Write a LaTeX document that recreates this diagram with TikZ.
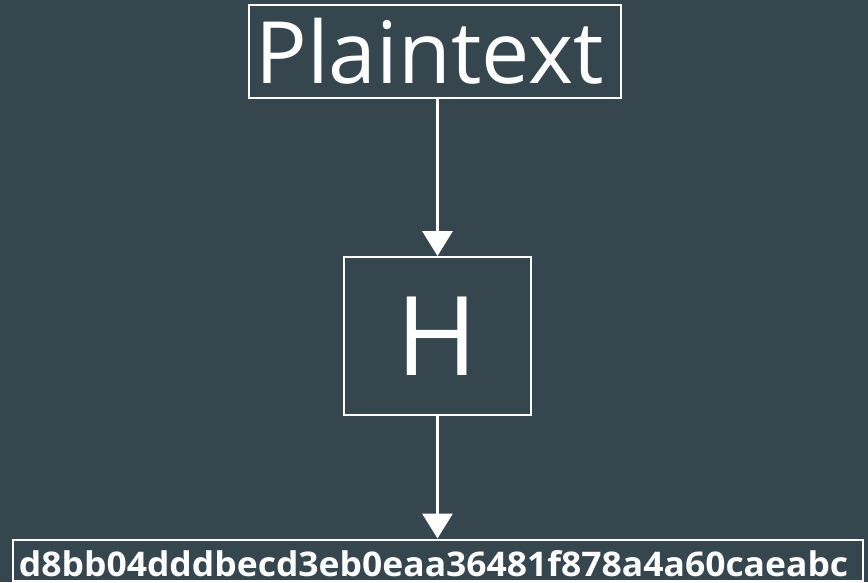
\documentclass[tikz,border=0pt]{standalone}
\usepackage{fontspec}
\setmainfont{Open Sans}
\usetikzlibrary{arrows.meta}
\definecolor{slate}{HTML}{36464F}
\begin{document}
\begin{tikzpicture}[x=1pt,y=-1pt,
  frame/.style={draw=white,line width=2pt,inner sep=0pt,text=white,anchor=center},
  flow/.style={draw=white,line width=3.5pt,-{Triangle[width=30pt,length=25pt]}}]
  \fill[slate] (0,0) rectangle (868,582);
  \useasboundingbox (0,0) rectangle (868,582);
  % input, hash function and digest
  \node[frame,minimum width=372pt,minimum height=93pt] (plain) at (435,51.5)
    {\fontsize{86pt}{90pt}\selectfont\hspace*{-11pt}Plaintext};
  \node[frame,minimum width=187pt,minimum height=158pt] (h) at (437.5,336)
    {\fontsize{110pt}{112pt}\selectfont H};
  \node[frame,minimum width=850pt,minimum height=41pt] (hash) at (438,560) {};
  \node[text=white,anchor=base,inner sep=0pt] (digest) at (433.5,576.5)
    {\resizebox{829pt}{26pt}{\bfseries d8bb04dddbecd3eb0eaa36481f878a4a60caeabc}};
  % connectors
  \draw[flow] (plain.south -| h.north) -- (h.north);
  \draw[flow] (h.south) -- (h.south |- hash.north);
\end{tikzpicture}
\end{document}
